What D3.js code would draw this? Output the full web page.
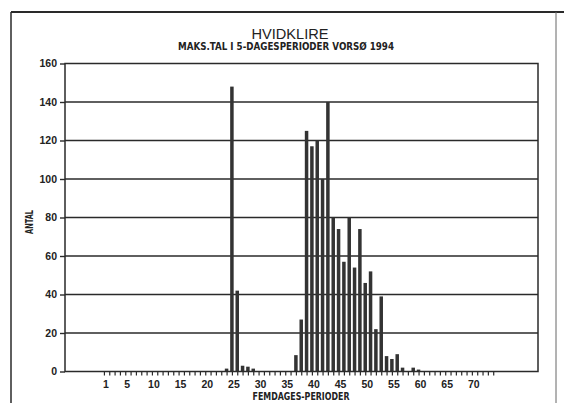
<!DOCTYPE html>
<html>
<head>
<meta charset="utf-8">
<script src="https://cdn.jsdelivr.net/npm/d3@7"></script>
<style>
  html, body { margin: 0; padding: 0; background: #fff; }
  svg { display: block; }
  text { font-family: "Liberation Sans Narrow", "Arial Narrow", "DejaVu Sans Condensed", "Liberation Sans", sans-serif; fill: #222; }
</style>
</head>
<body>
<svg id="chart" width="564" height="403"></svg>
<script>
// Five-day periods and the maximum count recorded in each
const periods = [24, 25, 26, 27, 28, 29,
  37, 38, 39, 40, 41, 42, 43, 44, 45, 46, 47, 48, 49, 50,
  51, 52, 53, 54, 55, 56, 57, 59, 60];
const counts = [1.5, 148, 42, 3, 2.5, 1.5,
  8.5, 27, 125, 117, 120, 100, 140, 80, 74, 57, 80, 54, 74, 46,
  52, 22, 39, 8, 6.5, 9, 2, 2, 1];

const yTicks = [0, 20, 40, 60, 80, 100, 120, 140, 160];
const xTickLabels = [1, 5, 10, 15, 20, 25, 30, 35, 40, 45, 50, 55, 60, 65, 70];
const xMinorTicks = d3.range(1, 75);

const title = "HVIDKLIRE";
const subtitle = "MAKS.TAL I 5-DAGESPERIODER VORSØ 1994";
const yTitle = "ANTAL";
const xTitle = "FEMDAGES-PERIODER";

const svg = d3.select("#chart");
const ink = "#2a2a2a";

const plot = { left: 65, right: 538, top: 63.5, bottom: 371.5 };

const x = d3.scaleLinear().domain([-6.3, 82.4]).range([plot.left, plot.right]);
const y = d3.scaleLinear().domain([0, 160]).range([plot.bottom, plot.top]);

// Outer page frame
svg.append("line").attr("x1", 11).attr("x2", 564).attr("y1", 12).attr("y2", 12)
  .attr("stroke", ink).attr("stroke-width", 1.8);
svg.append("line").attr("x1", 11).attr("x2", 11).attr("y1", 12).attr("y2", 403)
  .attr("stroke", ink).attr("stroke-width", 1.5);
svg.append("line").attr("x1", 556).attr("x2", 556).attr("y1", 12).attr("y2", 403)
  .attr("stroke", "#666").attr("stroke-width", 1);

// Horizontal grid lines
svg.append("g").selectAll("line").data(yTicks.filter(d => d > 0 && d < 160)).join("line")
  .attr("x1", plot.left).attr("x2", plot.right)
  .attr("y1", d => y(d)).attr("y2", d => y(d))
  .attr("stroke", ink).attr("stroke-width", 1.6);

// Bars
const barW = 3.5;
svg.append("g").selectAll("rect").data(periods.map((p, i) => ({ p, v: counts[i] }))).join("rect")
  .attr("x", d => x(d.p) - barW / 2)
  .attr("width", barW)
  .attr("y", d => y(d.v))
  .attr("height", d => y(0) - y(d.v))
  .attr("fill", "#333");

// Plot frame
svg.append("rect")
  .attr("x", plot.left).attr("y", plot.top)
  .attr("width", plot.right - plot.left).attr("height", plot.bottom - plot.top)
  .attr("fill", "none").attr("stroke", ink).attr("stroke-width", 1.5);

// Y axis
const yAxis = svg.append("g")
  .attr("transform", `translate(${plot.left},0)`)
  .call(d3.axisLeft(y).tickValues(yTicks).tickSize(5).tickPadding(3));
yAxis.select(".domain").remove();
yAxis.selectAll(".tick line").attr("stroke", ink).attr("stroke-width", 1.4);
yAxis.selectAll(".tick text")
  .style("font-family", "\"Liberation Sans\", Arial, sans-serif")
  .style("font-weight", "bold").style("font-size", "10.5px").attr("fill", ink);

// X axis: minor ticks on every period
const xAxis = svg.append("g")
  .attr("transform", `translate(0,${plot.bottom})`)
  .call(d3.axisBottom(x).tickValues(xMinorTicks).tickSize(4).tickFormat(""));
xAxis.select(".domain").remove();
xAxis.selectAll(".tick line").attr("stroke", ink).attr("stroke-width", 1.2);

// X axis labels
const xLab = svg.append("g")
  .attr("transform", `translate(0,${plot.bottom})`)
  .call(d3.axisBottom(x).tickValues(xTickLabels).tickSize(0).tickPadding(9));
xLab.select(".domain").remove();
xLab.selectAll(".tick text")
  .attr("dx", 1.5)
  .style("font-family", "\"Liberation Sans\", Arial, sans-serif")
  .style("font-weight", "bold").style("font-size", "10.5px").attr("fill", ink);

// Titles
svg.append("text").attr("x", 290).attr("y", 39).attr("text-anchor", "middle")
  .style("font-size", "15px").style("font-family", "\"Liberation Sans\", Arial, sans-serif")
  .attr("textLength", 77).attr("lengthAdjust", "spacingAndGlyphs")
  .text(title);
svg.append("text").attr("x", 286).attr("y", 50).attr("text-anchor", "middle")
  .style("font-size", "10px").style("font-weight", "bold")
  .attr("textLength", 216).attr("lengthAdjust", "spacingAndGlyphs")
  .text(subtitle);
svg.append("text")
  .attr("transform", "translate(33,222) rotate(-90)")
  .attr("text-anchor", "middle")
  .style("font-size", "10px").style("font-weight", "bold")
  .attr("textLength", 24).attr("lengthAdjust", "spacingAndGlyphs")
  .text(yTitle);
svg.append("text").attr("x", 301).attr("y", 400).attr("text-anchor", "middle")
  .style("font-size", "10.5px").style("font-weight", "bold")
  .attr("textLength", 97).attr("lengthAdjust", "spacingAndGlyphs")
  .text(xTitle);
</script>
</body>
</html>
